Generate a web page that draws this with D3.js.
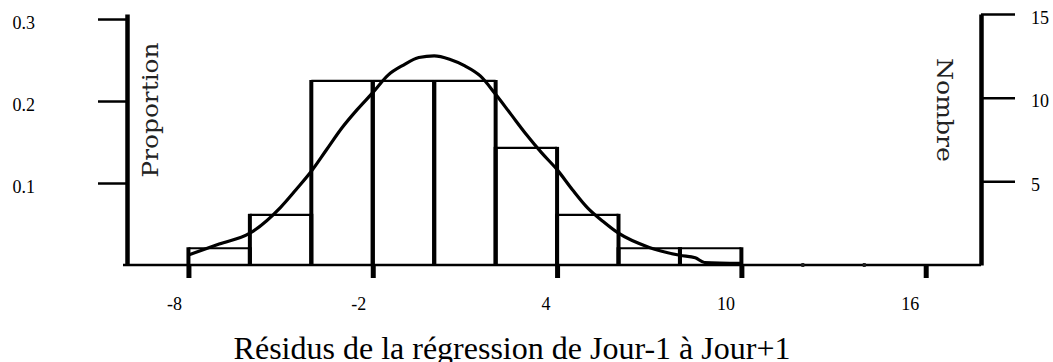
<!DOCTYPE html>
<html>
<head>
<meta charset="utf-8">
<script src="https://cdn.jsdelivr.net/npm/d3@7"></script>
<style>
  body { margin: 0; background: #fff; }
  svg { display: block; }
  .tickLabel { font-family: 'Liberation Serif', 'Times New Roman', serif; font-size: 18px; fill: #000; }
  .axisTitle { font-family: 'DejaVu Serif', serif; font-size: 22px; fill: #222; }
  .mainTitle { font-family: 'Liberation Serif', 'Times New Roman', serif; font-size: 32px; fill: #000; }
</style>
</head>
<body>
<div id="chart"></div>
<script>
// Histogram bins (residual classes) and counts per bin
var binEdges = [-8, -6, -4, -2, 0, 2, 4, 6, 8, 10];
var binCounts = [1, 3, 11, 11, 11, 7, 3, 1, 1];

// Fitted curve (x = residual, y = count)
var curveX = [-8, -7, -6, -5, -4.5, -4, -3.5, -3, -2.5, -2, -1.5, -1, -0.5, 0, 0.5, 1, 1.5, 2, 2.5, 3, 3.5, 4, 4.5, 5, 5.5, 6, 7, 8, 8.5, 8.8, 10];
var curveCount = [0.6, 1.25, 1.9, 3.45, 4.5, 5.6, 6.9, 8.2, 9.3, 10.3, 11.35, 11.95, 12.4, 12.5, 12.3, 11.9, 11.3, 10.2, 9.0, 7.8, 6.7, 5.7, 4.5, 3.4, 2.6, 1.9, 1.05, 0.58, 0.43, 0.15, 0.1];

// Tick labels
var xTicks = [-8, -2, 4, 10, 16];
var xMinorTicks = [12, 14];
var propTicks = [0.1, 0.2, 0.3];
var countTicks = [5, 10, 15];

var svgWidth = 1053;
var svgHeight = 362;

var svg = d3.select('#chart')
    .append('svg')
        .attr('width', svgWidth)
        .attr('height', svgHeight);

var total = d3.sum(binCounts);

// Scales
var xScale = d3.scaleLinear().domain([-10, 17.8]).range([127, 981]);
var yCount = d3.scaleLinear().domain([0, 15]).range([265, 14]);
var yProp = d3.scaleLinear().domain([0, 15 / total]).range([265, 14]);

// Baseline
svg.append('line')
    .attr('x1', xScale.range()[0] - 4)
    .attr('x2', xScale.range()[1])
    .attr('y1', yCount(0))
    .attr('y2', yCount(0))
    .attr('stroke', '#000')
    .attr('stroke-width', 2.5);

// Bars: thin tops, thick sides
var bars = svg.append('g').attr('class', 'bars');
binCounts.forEach(function(c, i) {
    var x0 = xScale(binEdges[i]);
    var x1 = xScale(binEdges[i + 1]);
    bars.append('line')
        .attr('x1', x0).attr('x2', x1)
        .attr('y1', yCount(c)).attr('y2', yCount(c))
        .attr('stroke', '#000').attr('stroke-width', 2.2);
    [x0, x1].forEach(function(x) {
        bars.append('line')
            .attr('x1', x).attr('x2', x)
            .attr('y1', yCount(0)).attr('y2', yCount(c) - 1)
            .attr('stroke', '#000').attr('stroke-width', 4);
    });
});

// Curve
var curveData = curveX.map(function(x, i) { return [x, curveCount[i]]; });
var line = d3.line()
    .x(function(d) { return xScale(d[0]); })
    .y(function(d) { return yCount(d[1]); })
    .curve(d3.curveMonotoneX);

svg.append('path')
    .datum(curveData)
    .attr('d', line)
    .attr('fill', 'none')
    .attr('stroke', '#000')
    .attr('stroke-width', 3.2);

// Minor marks on the baseline
svg.selectAll('.minor')
    .data(xMinorTicks)
    .enter()
    .append('rect')
        .attr('x', function(d) { return xScale(d) - 1.5; })
        .attr('y', yCount(0) - 2)
        .attr('width', 3)
        .attr('height', 4)
        .attr('fill', '#222');

// Bottom axis
var bottomAxis = d3.axisBottom(xScale)
    .tickValues(xTicks)
    .tickSize(13)
    .tickPadding(19)
    .tickFormat(function(d) { return String(d); });

var gx = svg.append('g')
    .attr('transform', 'translate(0,' + yCount(0) + ')')
    .call(bottomAxis);
gx.attr('font-family', null).attr('font-size', null);
gx.select('.domain').remove();
gx.selectAll('.tick line').attr('stroke', '#000').attr('stroke-width', 5);
gx.selectAll('.tick text')
    .attr('class', 'tickLabel')
    .attr('text-anchor', 'end')
    .attr('dx', -7);

// Left axis: proportion
var leftAxis = d3.axisLeft(yProp)
    .tickValues(propTicks)
    .tickSize(29)
    .tickSizeOuter(0)
    .tickPadding(63)
    .tickFormat(d3.format('.1f'));

var gl = svg.append('g')
    .attr('transform', 'translate(' + xScale.range()[0] + ',0)')
    .call(leftAxis);
gl.attr('font-family', null).attr('font-size', null);
gl.select('.domain').attr('stroke', '#000').attr('stroke-width', 4.5);
gl.selectAll('.tick line').attr('stroke', '#000').attr('stroke-width', 2.5);
gl.selectAll('.tick text').attr('class', 'tickLabel').attr('dy', '0.55em');

// Right axis: count
var rightAxis = d3.axisRight(yCount)
    .tickValues(countTicks)
    .tickSize(34)
    .tickSizeOuter(0)
    .tickPadding(16);

var gr = svg.append('g')
    .attr('transform', 'translate(' + xScale.range()[1] + ',0)')
    .call(rightAxis);
gr.attr('font-family', null).attr('font-size', null);
gr.select('.domain').attr('stroke', '#000').attr('stroke-width', 4.5);
gr.selectAll('.tick line').attr('stroke', '#000').attr('stroke-width', 2.5);
gr.selectAll('.tick text').attr('class', 'tickLabel').attr('dy', '0.5em');

// Axis titles
svg.append('text')
    .attr('transform', 'translate(158,110) rotate(-90)')
    .attr('text-anchor', 'middle')
    .attr('class', 'axisTitle')
    .attr('textLength', 135)
    .attr('lengthAdjust', 'spacingAndGlyphs')
    .text('Proportion');

svg.append('text')
    .attr('transform', 'translate(937,110) rotate(90)')
    .attr('text-anchor', 'middle')
    .attr('class', 'axisTitle')
    .attr('textLength', 104)
    .attr('lengthAdjust', 'spacingAndGlyphs')
    .text('Nombre');

svg.append('text')
    .attr('x', 512)
    .attr('y', 359)
    .attr('text-anchor', 'middle')
    .attr('class', 'mainTitle')
    .text('Résidus de la régression de Jour-1 à Jour+1');
</script>
</body>
</html>
